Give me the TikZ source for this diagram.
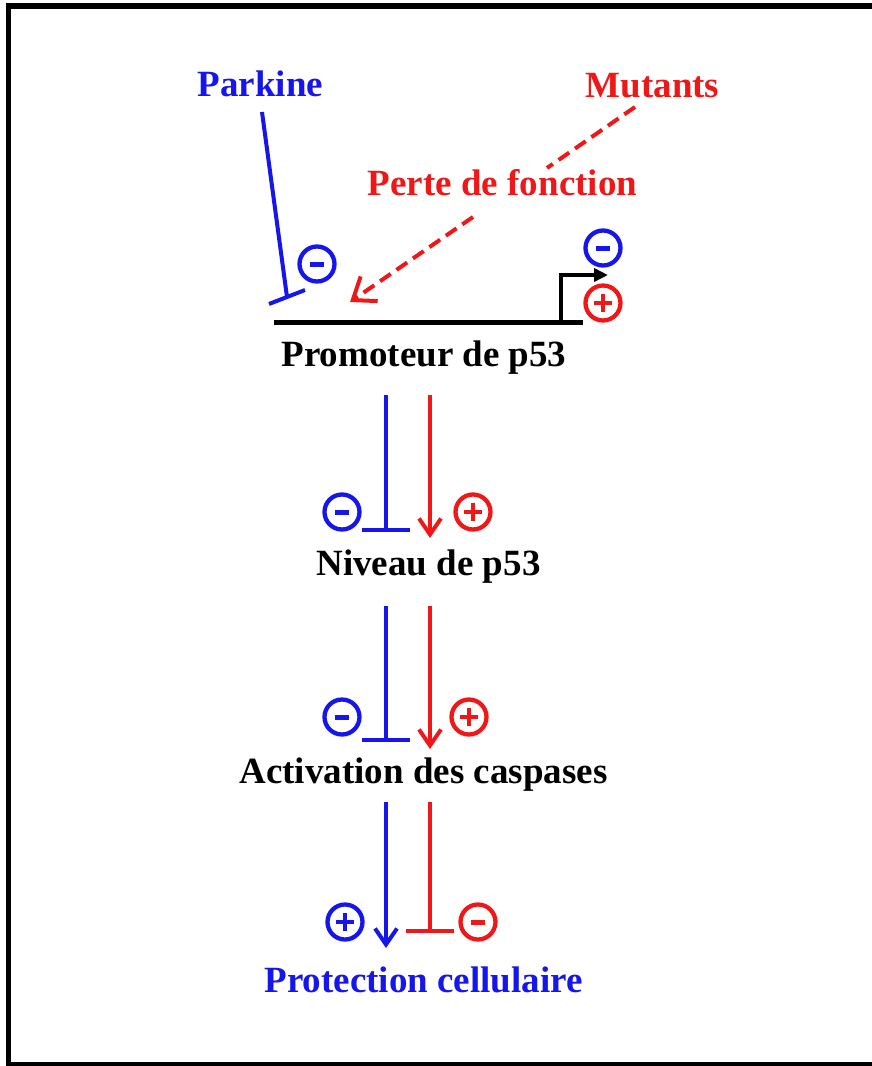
\documentclass[tikz,border=0pt]{standalone}
\usepackage{fontspec}
\setmainfont{Liberation Serif}
\usetikzlibrary{arrows.meta}
\definecolor{pblue}{RGB}{22,22,235}
\definecolor{pred}{RGB}{238,24,24}
\begin{document}
\begin{tikzpicture}[x=1pt,y=-1pt,
  lbl/.style={font=\fontsize{37}{40}\selectfont\bfseries, inner sep=0pt, anchor=base},
  sgnbase/.style={circle, draw, line width=4.3pt, minimum size=35pt, inner sep=0pt},
  sgnminus/.style={sgnbase, path picture={\draw[line width=5pt] ([xshift=-7pt]path picture bounding box.center) -- ([xshift=7pt]path picture bounding box.center);}},
  sgnplus/.style={sgnbase, path picture={\draw[line width=4.3pt] ([xshift=-9pt]path picture bounding box.center) -- ([xshift=9pt]path picture bounding box.center) ([yshift=-9pt]path picture bounding box.center) -- ([yshift=9pt]path picture bounding box.center);}},
  link/.style={line width=4pt},
  inhib/.style={link, -{Bar[width=48pt]}},
  activ/.style={link, -{Straight Barb[length=16pt,width=22pt]}},
  dashlink/.style={link, pred, dash pattern=on 13pt off 7pt},
]
\useasboundingbox (0,0) rectangle (872,1066);
% frame
\draw[line width=5.5pt] (880,6) -- (8.5,6) -- (8.5,1065) -- (880,1065);

% labels
\node[lbl, pblue] (park) at (260.5,96) {Parkine};
\node[lbl, pred] (mut) at (652.5,97) {Mutants};
\node[lbl, pred] (perte) at (502.5,195) {Perte de fonction};
\node[lbl] (prom) at (424,366) {Promoteur de p53};
\node[lbl] (niv) at (428.5,575) {Niveau de p53};
\node[lbl] (act) at (423.5,783) {Activation des caspases};
\node[lbl, pblue] (prot) at (423.5,992) {Protection cellulaire};

% promoter
\coordinate (pl) at (274,322);
\coordinate (pr) at (583,322);
\coordinate (tss) at (561,322);
\coordinate (tssup) at (561,275);
\coordinate (tssend) at (608,275);
\draw[line width=5pt] (pl) -- (pr);
\draw[line width=3.5pt, -{Triangle[length=14pt,width=13pt]}] (tss) -- (tssup) -- (tssend);
\node[sgnminus, color=pblue] (s1) at (603,248) {};
\node[sgnplus, color=pred] (s2) at (603,303) {};

% Parkine inhibition
\coordinate (pk1) at (262,112);
\coordinate (pk2) at (287,297);
\coordinate (pkb1) at (269,304);
\coordinate (pkb2) at (305,290);
\draw[link, pblue] (pk1) -- (pk2);
\draw[link, pblue] (pkb1) -- (pkb2);
\node[sgnminus, color=pblue] (s0) at (317,264) {};

% Mutants dashed arrow
\coordinate (m1) at (635,107);
\coordinate (m2) at (547,168);
\coordinate (m3) at (473,217);
\coordinate (m4) at (350,302);
\draw[dashlink] (m1) -- (m2);
\draw[dashlink, -{Straight Barb[length=20pt,width=30pt]}] (m3) -- (m4);

% pair 1
\coordinate (a1) at (386,395); \coordinate (a2) at (386,532);
\coordinate (b1) at (430,395); \coordinate (b2) at (430,538);
\draw[inhib, pblue] (a1) -- (a2);
\draw[activ, pred] (b1) -- (b2);
\node[sgnminus, color=pblue] (s3) at (342,512) {};
\node[sgnplus, color=pred] (s4) at (473,512) {};

% pair 2
\coordinate (c1) at (386,606); \coordinate (c2) at (386,742);
\coordinate (d1) at (430,606); \coordinate (d2) at (430,749);
\draw[inhib, pblue] (c1) -- (c2);
\draw[activ, pred] (d1) -- (d2);
\node[sgnminus, color=pblue] (s5) at (342,717) {};
\node[sgnplus, color=pred] (s6) at (469,717) {};

% pair 3
\coordinate (e1) at (386,802); \coordinate (e2) at (386,948);
\coordinate (f1) at (430,802); \coordinate (f2) at (430,933);
\draw[activ, pblue] (e1) -- (e2);
\draw[inhib, pred] (f1) -- (f2);
\node[sgnplus, color=pblue] (s7) at (345,922) {};
\node[sgnminus, color=pred] (s8) at (478,922) {};
\end{tikzpicture}
\end{document}
